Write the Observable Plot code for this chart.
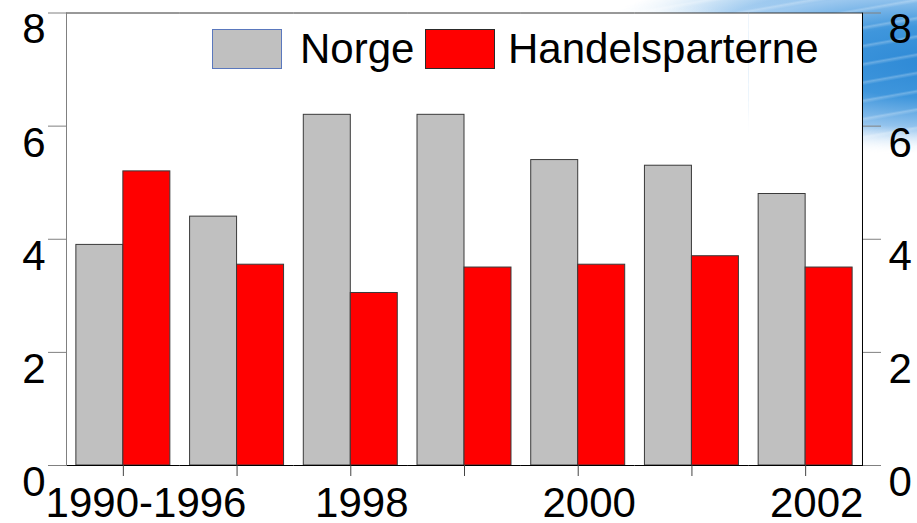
<!DOCTYPE html>
<html><head><meta charset="utf-8">
<script src="https://cdn.jsdelivr.net/npm/d3@7"></script>
<script src="https://cdn.jsdelivr.net/npm/@observablehq/plot@0.6"></script>
<style>
html,body{margin:0;padding:0;background:#fff;}
#wrap{position:relative;width:917px;height:523px;overflow:hidden;font-family:"Liberation Sans",Arial,sans-serif;}
#bg{position:absolute;left:0;top:0;width:917px;height:523px;
  background:
    repeating-linear-gradient(170deg, rgba(255,255,255,0) 0px, rgba(255,255,255,0) 13px, rgba(255,255,255,0.25) 15px, rgba(255,255,255,0) 18px),
    radial-gradient(ellipse 330px 95px at 940px 62px, #2c88d5 0%, #3f96dc 38%, #9cc8ef 72%, rgba(255,255,255,0) 100%),
    radial-gradient(ellipse 320px 28px at 860px 0px, #86bdeb 0%, #b9d9f3 55%, rgba(255,255,255,0) 100%);
  -webkit-mask-image: radial-gradient(ellipse 360px 100px at 940px 55px, #000 72%, transparent 100%);
  mask-image: radial-gradient(ellipse 360px 100px at 940px 55px, #000 72%, transparent 100%);
}
#chart{position:absolute;left:0;top:0;}
.sw{position:absolute;top:29px;width:68px;height:38px;}
.lt{position:absolute;top:28px;font-size:42px;line-height:42px;color:#000;white-space:nowrap;}
</style></head>
<body>
<div id="wrap">
  <div id="bg"></div>
  <div id="chart"></div>
  <div id="legend"></div>
</div>
<script>
const categories = ["1990-1996","1997","1998","1999","2000","2001","2002"];
const tickLabels = ["\u20071990-1996","","1998","","2000","","2002"];
const series = ["Norge","Handelsparterne"];
const norge = [3.9, 4.4, 6.2, 6.2, 5.4, 5.3, 4.8];
const handel = [5.2, 3.55, 3.05, 3.5, 3.55, 3.7, 3.5];
const yTicks = [0, 2, 4, 6, 8];
const colors = ["#c0c0c0", "#ff0000"];
const swatchBorders = ["#5a78bd", "#2a2a2a"];

const table = categories.flatMap((c, i) => [
  {cat: c, series: series[0], value: norge[i]},
  {cat: c, series: series[1], value: handel[i]}
]);

const chart = Plot.plot({
  width: 917, height: 523,
  marginLeft: 66, marginRight: 55, marginTop: 12.5, marginBottom: 58,
  style: {background: "transparent", fontFamily: "'Liberation Sans', Arial, sans-serif", fontSize: "42px", color: "#000", overflow: "visible"},
  fx: {domain: categories, padding: 0, round: false, axis: null, label: null},
  x: {domain: series, paddingInner: 0, paddingOuter: 0.21, round: false, axis: null},
  y: {domain: [0, 8], axis: null},
  color: {domain: series, range: colors},
  marks: [
    Plot.frame({fill: "white", stroke: "none"}),
    Plot.barY(table, {fx: "cat", x: "series", y: "value", fill: "series", stroke: "#3a3a3a", strokeWidth: 1}),
    Plot.ruleY([0], {stroke: "#000"}),
    Plot.ruleY([8], {stroke: "#333"}),
    Plot.frame({anchor: "left", facetAnchor: "left", stroke: "#808080"}),
    Plot.frame({anchor: "right", facetAnchor: "right", stroke: "#000"}),
    Plot.axisY({anchor: "left", ticks: yTicks, tickSize: 18, tickFormat: () => "", stroke: "#808080", label: null}),
    Plot.axisY({anchor: "right", ticks: yTicks, tickSize: 18, tickFormat: () => "", stroke: "#808080", label: null}),
    Plot.axisY({anchor: "left", ticks: yTicks, tickSize: 0, tickPadding: 21, dy: 17, fontSize: 42, fill: "#000", label: null}),
    Plot.axisY({anchor: "right", ticks: yTicks, tickSize: 0, tickPadding: 26, dy: 17, fontSize: 42, fill: "#000", label: null}),
    Plot.axisFx({anchor: "bottom", tickSize: 11, tickFormat: () => "", stroke: "#444", label: null}),
    Plot.axisFx({anchor: "bottom", tickSize: 0, tickPadding: 22, dx: 11, fontSize: 42, fill: "#000", tickFormat: d => tickLabels[categories.indexOf(d)], label: null})
  ]
});
document.getElementById("chart").appendChild(chart);

// legend (drawn inside the plot area, top)
const legend = document.getElementById("legend");
const swLeft = [212, 425];
const txLeft = [300, 508];
series.forEach((s, i) => {
  const sw = document.createElement("div");
  sw.className = "sw";
  sw.style.left = swLeft[i] + "px";
  sw.style.background = colors[i];
  sw.style.border = "1px solid " + swatchBorders[i];
  legend.appendChild(sw);
  const t = document.createElement("div");
  t.className = "lt";
  t.style.left = txLeft[i] + "px";
  t.textContent = s;
  legend.appendChild(t);
});
</script>
</body></html>
